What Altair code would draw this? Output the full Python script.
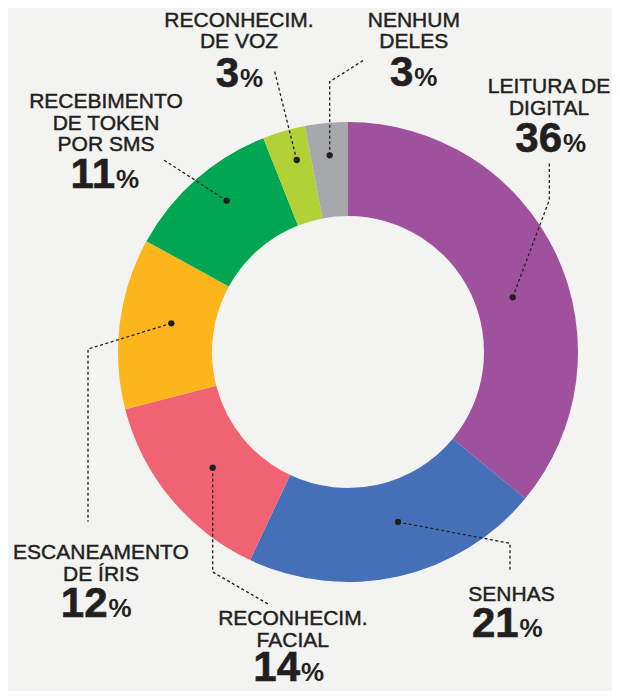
import altair as alt
import pandas as pd

# ---- data ----
categories = ["Leitura de digital", "Senhas", "Reconhecim. facial", "Escaneamento de íris",
              "Recebimento de token por SMS", "Reconhecim. de voz", "Nenhum deles"]
values = [36, 21, 14, 12, 11, 3, 3]
colors = ["#a0519e", "#4570b8", "#ef6373", "#fcb51a", "#00a651", "#b1d136", "#a7a8ab"]
label_lines = [["LEITURA DE", "DIGITAL"], ["SENHAS"], ["RECONHECIM.", "FACIAL"],
               ["ESCANEAMENTO", "DE ÍRIS"], ["RECEBIMENTO", "DE TOKEN", "POR SMS"],
               ["RECONHECIM.", "DE VOZ"], ["NENHUM", "DELES"]]

# ---- annotation layout (page coordinates) ----
label_x = [549, 511.5, 292.8, 101, 106, 239, 413.8]
label_y0 = [93, 600.7, 625, 559, 108.3, 26.7, 26.7]
number_y = [151.7, 636.7, 681, 616.7, 188.3, 86.5, 86]
number_seam = [562, 518.6, 300, 107.5, 115, 239, 413.3]
leaders = [
    [(512.7, 297.3), (549.3, 200), (549.3, 162.7)],
    [(398, 522), (510, 543.3), (510, 570)],
    [(212.7, 467.7), (212.7, 572), (268, 604)],
    [(171.3, 323.3), (88, 349), (88, 521.7)],
    [(226.7, 200.7), (162.3, 159)],
    [(296.7, 160), (274.3, 70)],
    [(329.7, 155.3), (329.7, 81.7), (365, 59.3)],
]
center = (348, 352)
line_pitch = 21.5

W, H = 604, 683
xs = alt.Scale(domain=[8, 8 + W], range=[0, W], nice=False, zero=False)
ys = alt.Scale(domain=[8, 8 + H], range=[0, H], nice=False, zero=False)
ink = "#231f20"

arc_df = pd.DataFrame({"category": categories, "value": values, "idx": list(range(len(values)))})

arc = alt.Chart(arc_df).mark_arc(radius=230, radius2=136).encode(
    theta=alt.Theta("value:Q", stack=True),
    order=alt.Order("idx:Q"),
    color=alt.Color("category:N", scale=alt.Scale(domain=categories, range=colors), legend=None),
    x=alt.XDatum(center[0], scale=xs, axis=None),
    y=alt.YDatum(center[1], scale=ys, axis=None),
)

# leader lines and dots
lrows = []
for i, path in enumerate(leaders):
    for j, (px, py) in enumerate(path):
        lrows.append({"lid": i, "step": j, "x": px, "y": py})
ldf = pd.DataFrame(lrows)

lines = alt.Chart(ldf).mark_line(color=ink, strokeWidth=1.3, strokeDash=[3, 2.5]).encode(
    x=alt.X("x:Q", scale=xs, axis=None),
    y=alt.Y("y:Q", scale=ys, axis=None),
    detail="lid:N",
    order="step:Q",
)
dots = alt.Chart(ldf[ldf["step"] == 0]).mark_circle(color=ink, opacity=1, size=40).encode(
    x=alt.X("x:Q", scale=xs, axis=None),
    y=alt.Y("y:Q", scale=ys, axis=None),
)

# text labels
trows = []
for i, ls in enumerate(label_lines):
    for k, t in enumerate(ls):
        trows.append({"x": label_x[i], "y": label_y0[i] + k * line_pitch, "t": t})
tdf = pd.DataFrame(trows)
texts = alt.Chart(tdf).mark_text(font="Liberation Sans", fontSize=21, fontWeight="normal",
                                 color=ink, stroke=ink, strokeWidth=0.45,
                                 align="center", baseline="alphabetic").encode(
    x=alt.X("x:Q", scale=xs, axis=None),
    y=alt.Y("y:Q", scale=ys, axis=None),
    text="t:N",
)

ndf = pd.DataFrame({"x": number_seam, "y": number_y, "n": [str(v) for v in values], "p": ["%"] * len(values)})
nums = alt.Chart(ndf).mark_text(font="Liberation Sans", fontSize=42, fontWeight="bold",
                                color=ink, stroke=ink, strokeWidth=0.6,
                                align="right", baseline="alphabetic").encode(
    x=alt.X("x:Q", scale=xs, axis=None),
    y=alt.Y("y:Q", scale=ys, axis=None),
    text="n:N",
)
pcts = alt.Chart(ndf).mark_text(font="Liberation Sans", fontSize=26, fontWeight="bold",
                                color=ink, align="left", baseline="alphabetic", dx=1).encode(
    x=alt.X("x:Q", scale=xs, axis=None),
    y=alt.Y("y:Q", scale=ys, axis=None),
    text="p:N",
)

chart = alt.layer(arc, lines, dots, texts, nums, pcts).properties(
    width=W, height=H,
    autosize=alt.AutoSizeParams(type="none"),
    padding=0,
    background="#f3f3f1",
).configure_view(stroke=None)

chart.save("out.html", embed_options={"renderer": "svg", "actions": False})
